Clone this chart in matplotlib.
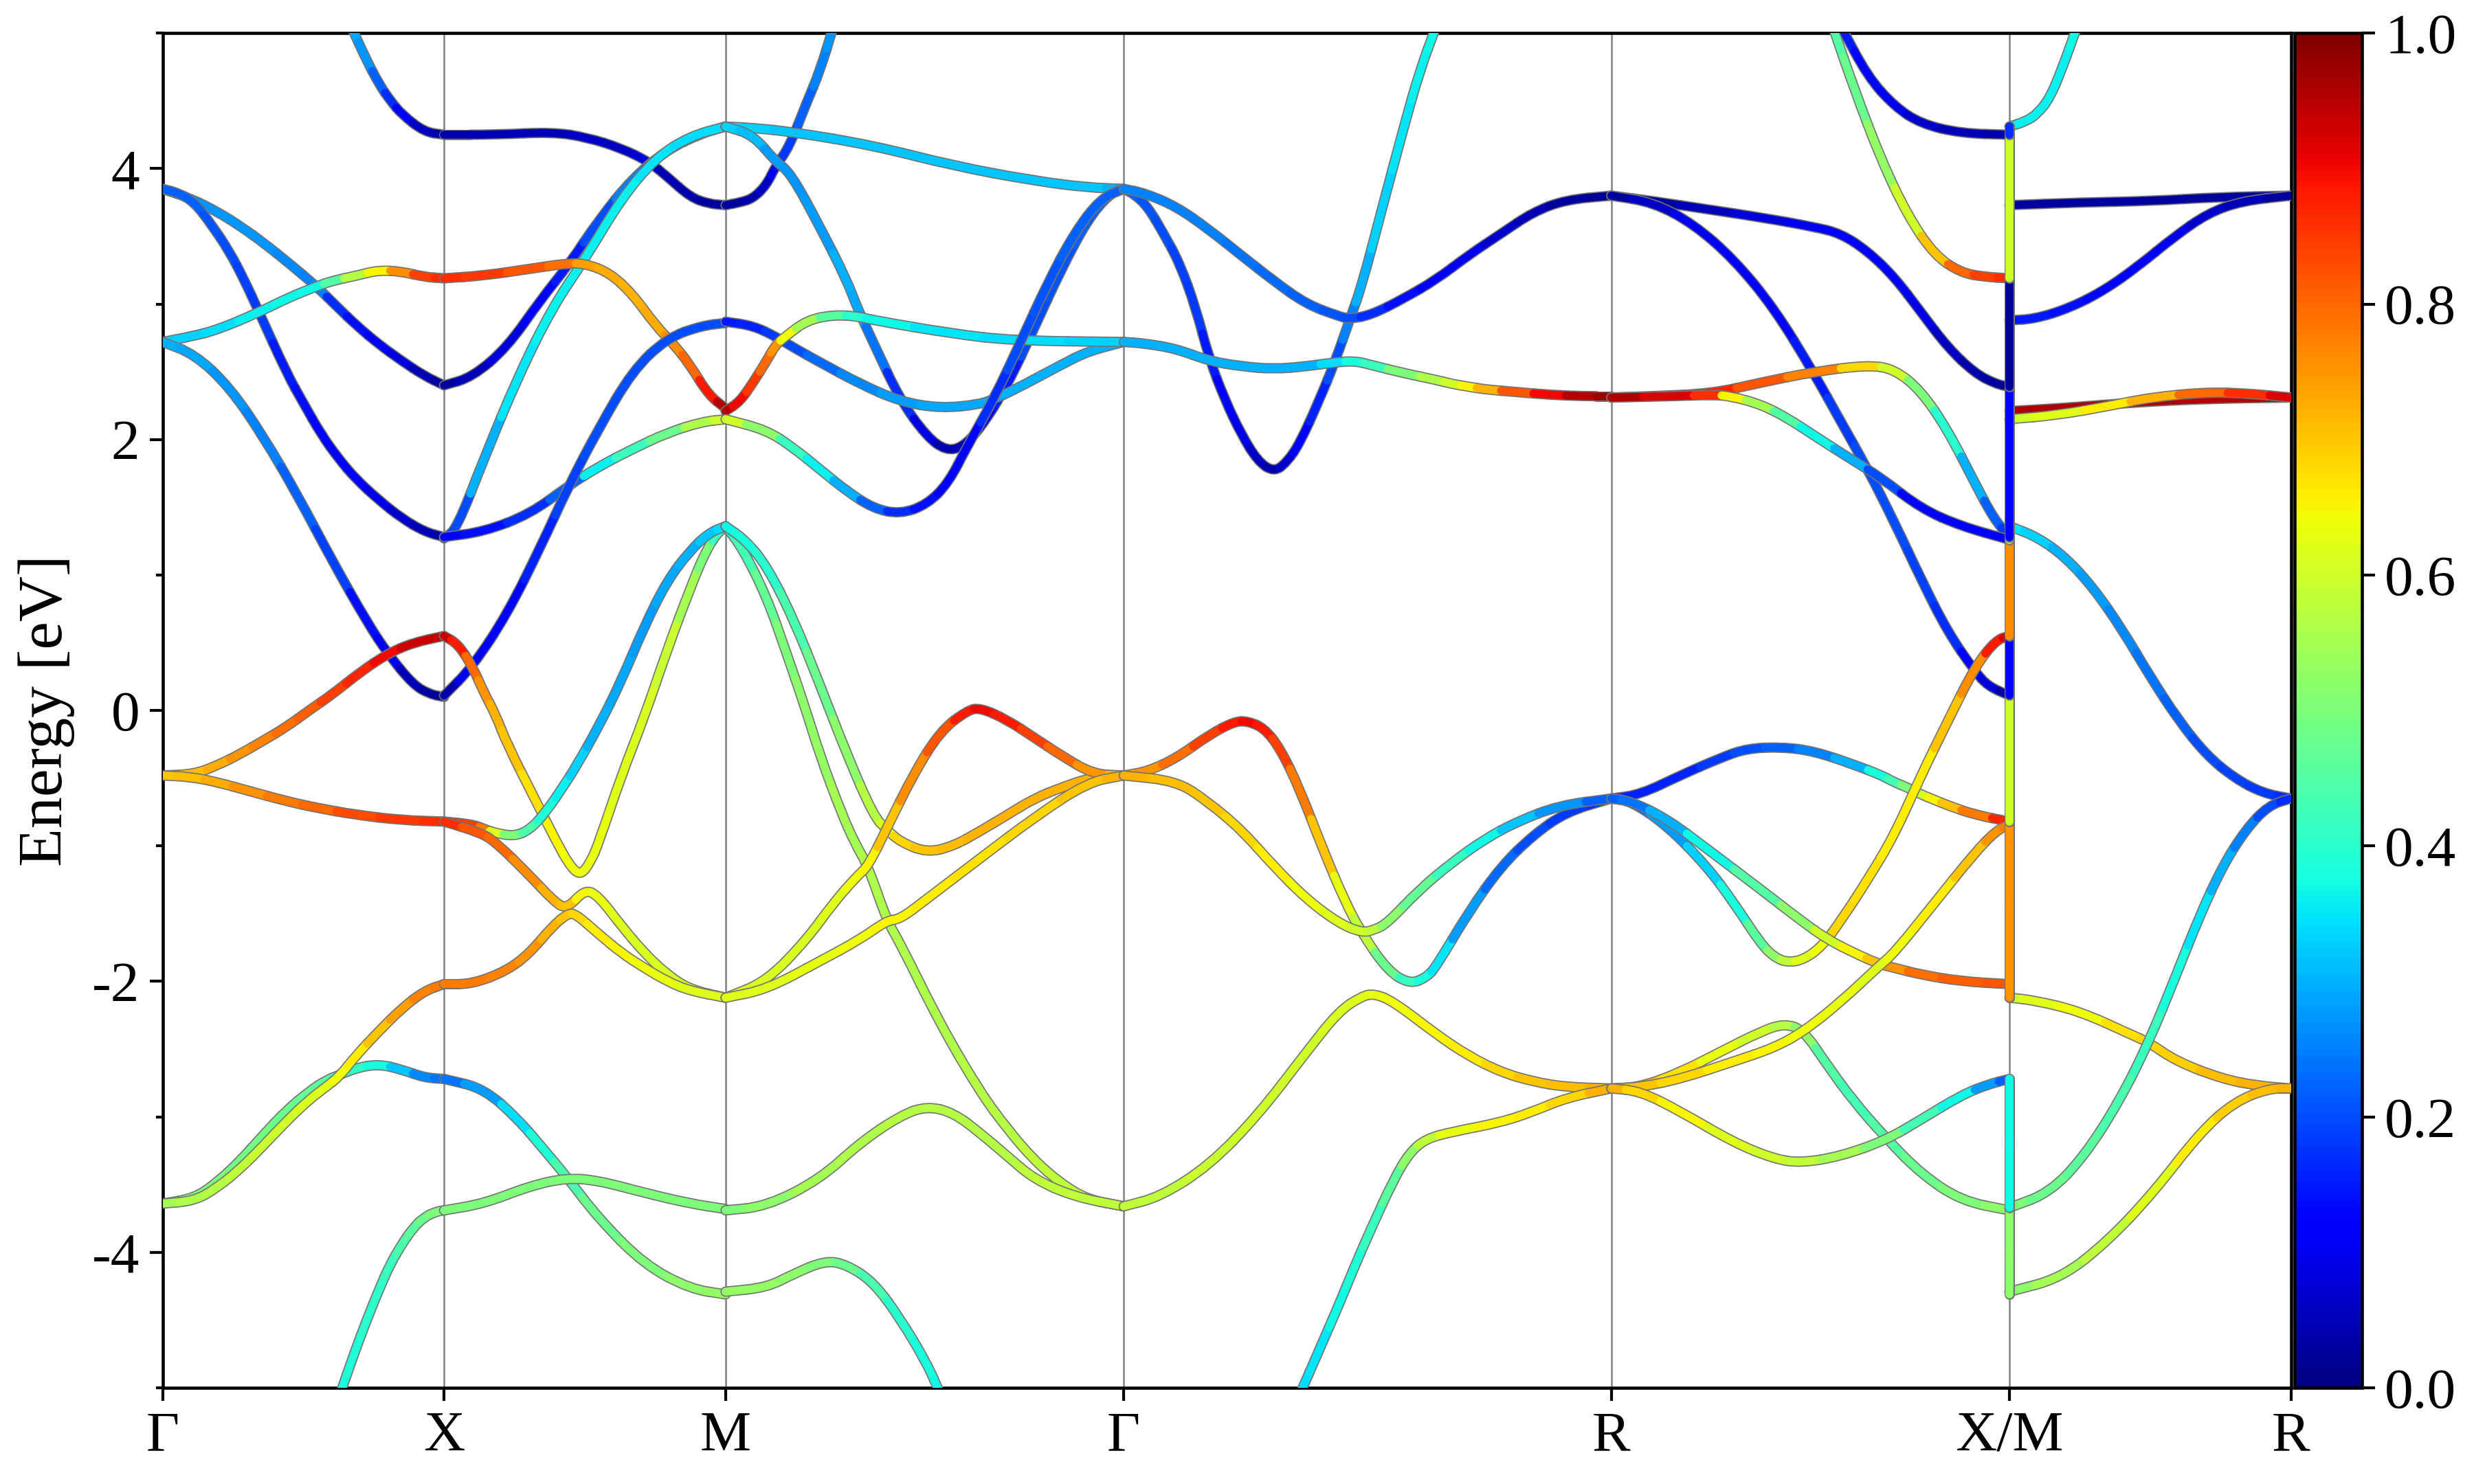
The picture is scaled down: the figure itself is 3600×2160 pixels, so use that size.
import numpy as np
import matplotlib
matplotlib.use("Agg")
import matplotlib.pyplot as plt
from matplotlib.path import Path
from matplotlib.collections import PathCollection
import matplotlib.patheffects as pe
from matplotlib import cm, colors

plt.rcParams['font.family'] = ['Liberation Serif', 'DejaVu Serif']
plt.rcParams['axes.unicode_minus'] = False

# high-symmetry path (units of 2pi/a)
kpts = [0.0, 0.5, 1.0, 1.7071, 2.5731, 3.2802, 3.7802]
klabels = ['Γ', 'X', 'M', 'Γ', 'R', 'X/M', 'R']

# every band: list of (fraction along segment, energy [eV], weight)
band_GX = [
    [(0.67, 5.05, .29), (0.72, 4.82, .27), (0.77, 4.62, .22), (0.81, 4.50, .17), (0.85, 4.40, .12), (0.93, 4.27, .06), (1.0, 4.25, .04)],
    [(0, 3.85, .27), (0.1, 3.78, .27), (0.196, 3.68, .27), (0.28, 3.57, .27), (0.36, 3.45, .27), (0.45, 3.30, .26), (0.547, 3.13, .25),
     (0.62, 2.98, .17), (0.69, 2.84, .14), (0.77, 2.70, .11), (0.85, 2.58, .08), (0.93, 2.47, .05), (1.0, 2.40, .03)],
    [(0, 3.85, .22), (0.057, 3.82, .22), (0.114, 3.75, .22), (0.176, 3.58, .21), (0.237, 3.39, .20), (0.29, 3.18, .19), (0.343, 2.94, .18),
     (0.441, 2.49, .15), (0.5, 2.27, .14), (0.563, 2.04, .13), (0.625, 1.86, .12), (0.686, 1.71, .11), (0.77, 1.55, .09), (0.849, 1.42, .07),
     (0.93, 1.32, .05), (1.0, 1.28, .04)],
    [(0, 2.72, .33), (0.1, 2.76, .33), (0.196, 2.81, .34), (0.343, 2.94, .36), (0.45, 3.05, .37), (0.547, 3.13, .37), (0.6, 3.17, .45),
     (0.69, 3.21, .57), (0.767, 3.25, .65), (0.85, 3.24, .76), (0.93, 3.20, .84), (1.0, 3.19, .86)],
    [(0, 2.72, .30), (0.114, 2.63, .29), (0.237, 2.39, .27), (0.359, 2.02, .25), (0.482, 1.58, .22), (0.604, 1.10, .19), (0.727, 0.65, .14),
     (0.8, 0.42, .10), (0.89, 0.19, .05), (0.95, 0.12, .03), (1.0, 0.10, .02)],
    [(0, -0.48, .70), (0.114, -0.47, .71), (0.2, -0.40, .73), (0.277, -0.32, .75), (0.36, -0.22, .77), (0.441, -0.12, .79), (0.52, 0.0, .81),
     (0.604, 0.12, .84), (0.7, 0.28, .87), (0.8, 0.42, .90), (0.89, 0.50, .93), (1.0, 0.55, .94)],
    [(0, -0.48, .70), (0.1, -0.49, .71), (0.196, -0.53, .73), (0.3, -0.59, .75), (0.441, -0.67, .78), (0.55, -0.72, .80), (0.686, -0.77, .83),
     (0.849, -0.81, .85), (1.0, -0.82, .86)],
    [(0, -3.64, .50), (0.114, -3.60, .50), (0.196, -3.48, .50), (0.278, -3.32, .49), (0.359, -3.13, .49), (0.441, -2.95, .48), (0.522, -2.81, .47),
     (0.58, -2.73, .46), (0.629, -2.69, .44), (0.686, -2.64, .41), (0.767, -2.61, .38), (0.849, -2.65, .32), (0.93, -2.71, .26), (1.0, -2.72, .24)],
    [(0, -3.64, .55), (0.114, -3.62, .56), (0.196, -3.52, .57), (0.278, -3.38, .58), (0.359, -3.21, .59), (0.441, -3.03, .60), (0.522, -2.87, .61),
     (0.58, -2.78, .62), (0.629, -2.70, .64), (0.686, -2.55, .66), (0.767, -2.37, .70), (0.849, -2.20, .74), (0.93, -2.07, .77), (1.0, -2.02, .78)],
    [(0.63, -5.05, .38), (0.68, -4.75, .39), (0.727, -4.49, .40), (0.77, -4.27, .41), (0.808, -4.09, .42), (0.85, -3.94, .44), (0.89, -3.82, .46),
     (0.93, -3.74, .48), (0.971, -3.70, .50), (1.0, -3.69, .50)],
]

band_XM = [
    [(0, 4.25, .04), (0.183, 4.25, .05), (0.386, 4.27, .05), (0.508, 4.23, .06), (0.63, 4.15, .06), (0.728, 4.05, .08), (0.793, 3.94, .05),
     (0.874, 3.79, .04), (0.94, 3.74, .03), (1.0, 3.73, .03)],
    [(0, 2.40, .03), (0.1, 2.46, .05), (0.224, 2.68, .08), (0.346, 3.04, .12), (0.443, 3.29, .15), (0.549, 3.62, .20), (0.67, 3.93, .25),
     (0.793, 4.14, .30), (0.915, 4.26, .33), (1.0, 4.31, .34)],
    [(0, 1.27, .13), (0.045, 1.34, .20), (0.142, 1.86, .30), (0.264, 2.47, .35), (0.386, 2.98, .36), (0.5, 3.33, .36), (0.63, 3.78, .36),
     (0.752, 4.08, .35), (0.874, 4.24, .34), (1.0, 4.31, .34)],
    [(0, 3.19, .86), (0.142, 3.21, .85), (0.305, 3.26, .82), (0.435, 3.30, .79), (0.5, 3.30, .74), (0.589, 3.23, .73), (0.671, 3.07, .72),
     (0.752, 2.84, .73), (0.817, 2.70, .76), (0.874, 2.55, .80), (0.939, 2.33, .88), (1.0, 2.23, .95)],
    [(0, 1.28, .12), (0.142, 1.32, .14), (0.305, 1.45, .17), (0.443, 1.66, .22), (0.549, 1.80, .36), (0.67, 1.93, .42), (0.793, 2.05, .48),
     (0.915, 2.13, .56), (1.0, 2.15, .60)],
    [(0, 0.11, .04), (0.1, 0.32, .10), (0.224, 0.71, .13), (0.346, 1.22, .16), (0.443, 1.66, .19), (0.549, 2.08, .20), (0.67, 2.51, .20),
     (0.793, 2.75, .20), (0.915, 2.84, .20), (1.0, 2.86, .20)],
    [(0, 0.55, .94), (0.05, 0.49, .88), (0.102, 0.32, .80), (0.142, 0.13, .75), (0.183, -0.03, .72), (0.224, -0.25, .70), (0.329, -0.68, .67),
     (0.402, -0.98, .65), (0.445, -1.14, .64), (0.484, -1.22, .64), (0.52, -1.12, .63), (0.549, -0.98, .63), (0.63, -0.48, .62),
     (0.711, -0.05, .61), (0.793, 0.45, .59), (0.874, 0.90, .55), (0.93, 1.18, .50), (0.975, 1.32, .42), (1.0, 1.35, .38)],
    [(0, -0.82, .87), (0.1, -0.84, .84), (0.15, -0.88, .78), (0.175, -0.90, .62), (0.248, -0.93, .50), (0.305, -0.88, .44), (0.362, -0.75, .39),
     (0.427, -0.55, .36), (0.467, -0.42, .33), (0.549, -0.12, .30), (0.63, 0.22, .29), (0.711, 0.62, .28), (0.793, 0.96, .29),
     (0.874, 1.18, .30), (0.94, 1.31, .32), (1.0, 1.36, .34)],
    [(0, -0.82, .86), (0.126, -0.90, .82), (0.183, -0.97, .80), (0.305, -1.22, .76), (0.386, -1.40, .72), (0.435, -1.47, .70), (0.5, -1.32, .65),
     (0.549, -1.37, .63), (0.63, -1.59, .62), (0.711, -1.79, .61), (0.793, -1.95, .61), (0.874, -2.06, .60), (1.0, -2.12, .60)],
    [(0, -2.02, .78), (0.1, -2.02, .78), (0.224, -1.92, .77), (0.305, -1.79, .75), (0.386, -1.59, .72), (0.439, -1.50, .70), (0.467, -1.50, .68),
     (0.549, -1.65, .66), (0.63, -1.79, .65), (0.711, -1.90, .64), (0.793, -2.00, .63), (0.874, -2.07, .62), (1.0, -2.12, .62)],
    [(0, -2.72, .24), (0.142, -2.79, .28), (0.264, -3.02, .34), (0.346, -3.22, .39), (0.435, -3.44, .44), (0.549, -3.75, .48), (0.711, -4.09, .50),
     (0.874, -4.27, .52), (1.0, -4.31, .53)],
    [(0, -3.69, .50), (0.142, -3.64, .50), (0.305, -3.51, .50), (0.435, -3.45, .50), (0.549, -3.47, .50), (0.711, -3.56, .50), (0.874, -3.64, .50),
     (1.0, -3.68, .50)],
]

band_MG = [
    [(0, 3.73, .03), (0.036, 3.75, .03), (0.069, 3.78, .04), (0.103, 3.88, .06), (0.126, 4.02, .10), (0.16, 4.16, .18), (0.204, 4.49, .22),
     (0.237, 4.72, .25), (0.271, 5.05, .27)],
    [(0, 4.31, .34), (0.069, 4.30, .33), (0.17, 4.27, .32), (0.372, 4.17, .32), (0.573, 4.02, .32), (0.775, 3.91, .32), (0.909, 3.86, .32),
     (1.0, 3.85, .30)],
    [(0, 4.31, .33), (0.069, 4.25, .31), (0.126, 4.05, .28), (0.163, 3.97, .27), (0.237, 3.57, .28), (0.304, 3.18, .30), (0.331, 2.97, .29),
     (0.372, 2.71, .24), (0.439, 2.29, .17), (0.506, 2.02, .09), (0.553, 1.92, .04), (0.593, 1.94, .05), (0.64, 2.08, .09), (0.708, 2.40, .15),
     (0.775, 2.82, .20), (0.842, 3.25, .21), (0.909, 3.62, .22), (0.963, 3.81, .22), (1.0, 3.85, .22)],
    [(0, 2.87, .15), (0.069, 2.84, .16), (0.126, 2.76, .18), (0.17, 2.68, .20), (0.237, 2.57, .23), (0.338, 2.41, .26), (0.439, 2.28, .28),
     (0.54, 2.23, .29), (0.64, 2.26, .29), (0.674, 2.30, .29), (0.721, 2.36, .30), (0.842, 2.55, .30), (0.909, 2.65, .30), (1.0, 2.72, .30)],
    [(0, 2.21, .95), (0.036, 2.28, .90), (0.069, 2.42, .85), (0.103, 2.58, .80), (0.126, 2.70, .75), (0.15, 2.76, .64), (0.204, 2.88, .55),
     (0.27, 2.92, .46), (0.331, 2.91, .40), (0.372, 2.88, .37), (0.573, 2.78, .35), (0.721, 2.73, .34), (1.0, 2.72, .33)],
    [(0, 2.15, .60), (0.103, 2.07, .52), (0.17, 1.94, .42), (0.237, 1.78, .36), (0.304, 1.62, .30), (0.372, 1.49, .22), (0.439, 1.45, .17),
     (0.506, 1.52, .14), (0.56, 1.68, .12), (0.607, 1.95, .13), (0.674, 2.30, .17), (0.741, 2.72, .20), (0.808, 3.15, .21), (0.875, 3.52, .22),
     (0.942, 3.78, .22), (1.0, 3.85, .22)],
    [(0, 1.36, .38), (0.042, 1.20, .43), (0.103, 0.84, .47), (0.15, 0.45, .50), (0.2, 0.02, .52), (0.237, -0.33, .53), (0.29, -0.75, .55),
     (0.325, -0.98, .55), (0.358, -1.15, .56), (0.405, -1.55, .56), (0.439, -1.72, .56), (0.54, -2.32, .56), (0.64, -2.82, .57),
     (0.708, -3.09, .57), (0.775, -3.32, .58), (0.842, -3.49, .58), (0.909, -3.61, .58), (1.0, -3.66, .58)],
    [(0, 1.36, .37), (0.049, 1.26, .38), (0.103, 1.07, .40), (0.17, 0.68, .44), (0.237, 0.19, .48), (0.304, -0.32, .52), (0.372, -0.78, .57),
     (0.405, -0.88, .62), (0.439, -0.97, .68), (0.506, -1.05, .70), (0.573, -1.00, .71), (0.64, -0.89, .72), (0.708, -0.77, .72),
     (0.775, -0.65, .72), (0.842, -0.57, .72), (0.922, -0.49, .72), (1.0, -0.48, .72)],
    [(0, -2.12, .62), (0.103, -2.00, .61), (0.204, -1.69, .61), (0.271, -1.42, .62), (0.331, -1.22, .64), (0.358, -1.15, .65), (0.405, -0.87, .70),
     (0.472, -0.47, .76), (0.54, -0.15, .82), (0.607, 0.00, .88), (0.64, 0.02, .90), (0.708, -0.07, .88), (0.775, -0.20, .84),
     (0.842, -0.33, .80), (0.922, -0.47, .75), (1.0, -0.48, .72)],
    [(0, -2.12, .62), (0.103, -2.06, .62), (0.237, -1.85, .63), (0.338, -1.69, .64), (0.405, -1.55, .65), (0.439, -1.54, .65), (0.506, -1.39, .66),
     (0.64, -1.09, .67), (0.775, -0.79, .68), (0.909, -0.53, .70), (1.0, -0.48, .72)],
    [(0, -3.69, .50), (0.103, -3.66, .52), (0.237, -3.46, .55), (0.338, -3.19, .56), (0.439, -2.99, .57), (0.506, -2.92, .57), (0.573, -2.97, .57),
     (0.64, -3.12, .57), (0.708, -3.29, .57), (0.775, -3.46, .58), (0.876, -3.59, .58), (1.0, -3.66, .58)],
    [(0, -4.29, .53), (0.103, -4.26, .53), (0.17, -4.16, .52), (0.25, -4.06, .50), (0.304, -4.09, .48), (0.372, -4.22, .44), (0.439, -4.49, .40),
     (0.506, -4.82, .38), (0.54, -5.05, .37)],
]

band_GR = [
    [(0, 3.85, .22), (0.022, 3.81, .22), (0.049, 3.72, .21), (0.082, 3.52, .20), (0.115, 3.30, .19), (0.148, 2.97, .18), (0.175, 2.60, .15),
     (0.208, 2.29, .12), (0.241, 2.04, .09), (0.275, 1.84, .06), (0.308, 1.76, .04), (0.334, 1.83, .07), (0.361, 1.97, .12), (0.401, 2.29, .16),
     (0.434, 2.58, .20), (0.464, 2.89, .25), (0.488, 3.13, .30), (0.528, 3.68, .33), (0.574, 4.30, .35), (0.607, 4.72, .36), (0.641, 5.05, .37)],
    [(0, 3.85, .25), (0.042, 3.82, .25), (0.108, 3.72, .25), (0.175, 3.55, .25), (0.241, 3.36, .24), (0.308, 3.17, .23), (0.374, 3.00, .22),
     (0.441, 2.91, .21), (0.464, 2.89, .20), (0.508, 2.92, .17), (0.574, 3.04, .14), (0.641, 3.18, .12), (0.707, 3.36, .10), (0.774, 3.52, .07),
     (0.84, 3.68, .05), (0.907, 3.77, .03), (1.0, 3.80, .02)],
    [(0, 2.72, .30), (0.042, 2.71, .30), (0.108, 2.67, .30), (0.175, 2.58, .30), (0.241, 2.54, .30), (0.308, 2.52, .30), (0.374, 2.54, .30),
     (0.434, 2.57, .34), (0.474, 2.58, .38), (0.508, 2.55, .42), (0.574, 2.49, .50), (0.641, 2.44, .56), (0.674, 2.41, .60), (0.707, 2.39, .65),
     (0.741, 2.37, .72), (0.807, 2.35, .82), (0.874, 2.33, .90), (0.94, 2.32, .95), (1.0, 2.32, .97)],
    [(0, -0.48, .72), (0.049, -0.45, .75), (0.109, -0.35, .79), (0.175, -0.18, .84), (0.228, -0.08, .88), (0.255, -0.08, .90), (0.288, -0.13, .88),
     (0.321, -0.28, .84), (0.361, -0.58, .78), (0.408, -1.02, .70), (0.455, -1.42, .63), (0.488, -1.64, .58), (0.541, -1.92, .48),
     (0.587, -2.02, .42), (0.621, -1.97, .38), (0.641, -1.89, .35), (0.707, -1.49, .28), (0.774, -1.15, .23), (0.84, -0.92, .20),
     (0.907, -0.75, .18), (1.0, -0.65, .17)],
    [(0, -0.48, .72), (0.109, -0.52, .71), (0.175, -0.68, .70), (0.241, -0.88, .68), (0.308, -1.15, .66), (0.374, -1.39, .64), (0.441, -1.57, .62),
     (0.488, -1.64, .60), (0.514, -1.62, .58), (0.541, -1.57, .52), (0.607, -1.32, .47), (0.674, -1.12, .42), (0.74, -0.95, .37),
     (0.807, -0.82, .32), (0.894, -0.70, .27), (1.0, -0.65, .22)],
    [(0, -3.66, .58), (0.075, -3.59, .58), (0.175, -3.36, .59), (0.275, -2.99, .60), (0.375, -2.52, .60), (0.441, -2.22, .61), (0.488, -2.11, .62),
     (0.514, -2.09, .63), (0.554, -2.15, .64), (0.641, -2.39, .65), (0.707, -2.55, .66), (0.774, -2.67, .68), (0.84, -2.74, .70),
     (0.907, -2.78, .71), (1.0, -2.79, .72)],
    [(0.361, -5.05, .34), (0.401, -4.72, .35), (0.441, -4.39, .37), (0.474, -4.10, .39), (0.508, -3.82, .42), (0.554, -3.46, .46),
     (0.587, -3.26, .52), (0.621, -3.16, .58), (0.674, -3.11, .63), (0.774, -3.04, .65), (0.84, -2.96, .66), (0.907, -2.86, .68), (1.0, -2.79, .72)],
]

band_RX = [
    [(0, 3.80, .02), (0.106, 3.76, .03), (0.24, 3.70, .05), (0.375, 3.64, .08), (0.509, 3.57, .10), (0.577, 3.52, .11), (0.644, 3.39, .12),
     (0.711, 3.20, .11), (0.778, 2.94, .09), (0.845, 2.68, .06), (0.913, 2.49, .04), (0.966, 2.41, .03), (1.0, 2.39, .02)],
    [(0, 3.80, .03), (0.106, 3.75, .06), (0.207, 3.59, .10), (0.308, 3.33, .12), (0.409, 2.97, .13), (0.509, 2.49, .15), (0.577, 2.13, .18),
     (0.644, 1.78, .20), (0.711, 1.39, .20), (0.778, 0.97, .19), (0.845, 0.58, .17), (0.913, 0.29, .12), (0.946, 0.18, .08), (1.0, 0.11, .04)],
    [(0.556, 5.05, .45), (0.61, 4.59, .48), (0.677, 4.07, .53), (0.745, 3.65, .60), (0.812, 3.36, .70), (0.879, 3.23, .80), (0.94, 3.20, .84),
     (1.0, 3.19, .86)],
    [(0.577, 5.05, .15), (0.644, 4.68, .13), (0.711, 4.46, .10), (0.778, 4.33, .07), (0.879, 4.26, .05), (1.0, 4.25, .04)],
    [(0, 2.31, .96), (0.106, 2.32, .93), (0.254, 2.34, .87), (0.375, 2.42, .82), (0.509, 2.50, .77), (0.644, 2.55, .68), (0.711, 2.52, .60),
     (0.778, 2.36, .50), (0.845, 2.07, .40), (0.913, 1.68, .30), (0.96, 1.42, .22), (1.0, 1.28, .18)],
    [(0, 2.31, .96), (0.16, 2.32, .92), (0.254, 2.33, .86), (0.3, 2.32, .65), (0.375, 2.26, .55), (0.442, 2.16, .45), (0.509, 2.03, .37),
     (0.61, 1.84, .30), (0.677, 1.72, .20), (0.778, 1.49, .13), (0.879, 1.36, .12), (1.0, 1.26, .12)],
    [(0, -0.65, .17), (0.073, -0.62, .16), (0.173, -0.48, .16), (0.274, -0.35, .18), (0.341, -0.28, .20), (0.429, -0.27, .22), (0.509, -0.30, .25),
     (0.61, -0.40, .30), (0.68, -0.48, .38), (0.711, -0.53, .43), (0.745, -0.57, .50), (0.778, -0.62, .60), (0.812, -0.66, .65),
     (0.845, -0.70, .70), (0.913, -0.77, .78), (1.0, -0.82, .87)],
    [(0, -0.65, .22), (0.05, -0.67, .23), (0.14, -0.85, .28), (0.24, -1.15, .33), (0.308, -1.42, .38), (0.375, -1.72, .46), (0.409, -1.82, .52),
     (0.442, -1.86, .58), (0.483, -1.84, .62), (0.53, -1.74, .64), (0.577, -1.55, .68), (0.644, -1.25, .67), (0.711, -0.92, .66),
     (0.778, -0.48, .66), (0.845, -0.08, .70), (0.913, 0.32, .76), (0.966, 0.52, .88), (1.0, 0.55, .92)],
    [(0, -0.65, .22), (0.05, -0.67, .24), (0.14, -0.80, .30), (0.24, -1.02, .37), (0.375, -1.32, .45), (0.476, -1.55, .52), (0.543, -1.69, .60),
     (0.61, -1.79, .65), (0.671, -1.87, .70), (0.711, -1.90, .75), (0.778, -1.95, .79), (0.879, -2.00, .81), (1.0, -2.02, .82)],
    [(0, -2.79, .72), (0.073, -2.78, .70), (0.174, -2.67, .67), (0.274, -2.52, .63), (0.375, -2.37, .60), (0.435, -2.31, .57), (0.483, -2.36, .52),
     (0.543, -2.62, .45), (0.61, -2.89, .43), (0.691, -3.16, .45), (0.778, -3.42, .48), (0.879, -3.62, .50), (1.0, -3.69, .52)],
    [(0, -2.79, .72), (0.073, -2.78, .70), (0.174, -2.72, .68), (0.308, -2.59, .66), (0.409, -2.49, .65), (0.483, -2.37, .64), (0.577, -2.15, .63),
     (0.671, -1.89, .62), (0.711, -1.79, .64), (0.812, -1.42, .66), (0.913, -1.05, .70), (0.966, -0.89, .75), (1.0, -0.84, .78)],
    [(0, -2.79, .72), (0.073, -2.81, .68), (0.174, -2.96, .65), (0.308, -3.19, .62), (0.409, -3.31, .60), (0.476, -3.34, .58), (0.577, -3.29, .55),
     (0.691, -3.17, .50), (0.778, -3.02, .43), (0.879, -2.84, .37), (0.946, -2.76, .28), (1.0, -2.72, .22)],
]

band_MR = [
    [(0, 4.31, .35), (0.061, 4.35, .36), (0.102, 4.41, .36), (0.143, 4.52, .36), (0.184, 4.72, .36), (0.241, 5.05, .37)],
    [(0, 3.73, .03), (0.254, 3.75, .03), (0.499, 3.76, .03), (0.745, 3.79, .03), (1.0, 3.80, .03)],
    [(0, 2.88, .15), (0.09, 2.89, .15), (0.213, 2.97, .14), (0.336, 3.10, .13), (0.458, 3.28, .12), (0.581, 3.49, .10), (0.704, 3.67, .07),
     (0.826, 3.76, .05), (1.0, 3.80, .03)],
    [(0, 2.21, .96), (0.17, 2.23, .96), (0.36, 2.26, .96), (0.5, 2.28, .96), (0.7, 2.30, .95), (1.0, 2.31, .95)],
    [(0, 2.15, .60), (0.17, 2.18, .62), (0.36, 2.25, .66), (0.5, 2.31, .72), (0.7, 2.35, .80), (0.85, 2.34, .86), (1.0, 2.31, .92)],
    [(0, 1.36, .35), (0.1, 1.28, .33), (0.2, 1.13, .30), (0.3, 0.90, .28), (0.4, 0.60, .26), (0.5, 0.25, .24), (0.6, -0.07, .22),
     (0.7, -0.33, .20), (0.8, -0.50, .19), (0.9, -0.61, .18), (1.0, -0.65, .17)],
    [(0, -2.12, .60), (0.09, -2.14, .62), (0.25, -2.22, .64), (0.43, -2.39, .67), (0.495, -2.45, .68), (0.593, -2.59, .69), (0.757, -2.72, .71),
     (0.88, -2.77, .72), (1.0, -2.79, .72)],
    [(0, -3.67, .50), (0.143, -3.56, .48), (0.266, -3.29, .46), (0.389, -2.89, .44), (0.495, -2.45, .42), (0.593, -1.95, .38), (0.675, -1.52, .35),
     (0.757, -1.15, .30), (0.839, -0.88, .25), (0.921, -0.70, .20), (1.0, -0.65, .17)],
    [(0, -4.29, .52), (0.184, -4.19, .55), (0.348, -3.92, .58), (0.511, -3.56, .62), (0.675, -3.12, .66), (0.798, -2.89, .69), (0.921, -2.79, .71),
     (1.0, -2.79, .72)],
]

# jumps drawn at the X/M break: (energy at X, energy at M, weight)
jumps_XM = [(-3.69, -4.31, .52), (-2.72, -3.67, .37), (-2.02, -2.12, .70), (-0.84, -2.12, .75), (-0.82, 1.36, .60),
            (0.11, 1.36, .13), (0.55, 2.15, .76), (1.26, 2.21, .54), (1.28, 2.88, .13), (2.39, 3.73, .02),
            (3.19, 4.31, .60), (4.25, 4.31, .17)]

segments = [band_GX, band_XM, band_MG, band_GR, band_RX, band_MR]

cmap = plt.get_cmap('jet')
norm = colors.Normalize(vmin=0.0, vmax=1.0)
LW = 2.8
edge = [pe.Stroke(linewidth=LW + 0.8, foreground='0.45'), pe.Normal()]


def draw_band(ax, x, e, w):
    # smooth band drawn as quadratic pieces through the listed points
    pts = np.column_stack([x, e])
    mids = 0.5 * (pts[:-1] + pts[1:])
    paths = [Path([pts[0], mids[0]])]
    ws = [w[0]]
    for i in range(1, len(pts) - 1):
        paths.append(Path([mids[i - 1], pts[i], mids[i]], [Path.MOVETO, Path.CURVE3, Path.CURVE3]))
        ws.append(w[i])
    paths.append(Path([mids[-1], pts[-1]]))
    ws.append(w[-1])
    pc = PathCollection(paths, facecolors='none', edgecolors=cmap(norm(ws)), linewidths=LW, zorder=3)
    pc.set_capstyle('round')
    pc.set_path_effects(edge)
    ax.add_collection(pc)


fig = plt.figure(figsize=(12, 7.2), dpi=300)
ax = fig.add_axes([0.0657, 0.0648, 0.8603, 0.9129])

for k in kpts[1:-1]:
    ax.axvline(k, color='0.5', lw=0.6, zorder=1)

for i, seg in enumerate(segments):
    k0, k1 = kpts[i], kpts[i + 1]
    for band in seg:
        t, e, w = (np.array(v) for v in zip(*band))
        draw_band(ax, k0 + t * (k1 - k0), e, w)

kx = kpts[5]
for eX, eM, w in jumps_XM:
    draw_band(ax, np.array([kx, kx]), np.array([eX, eM]), np.array([w, w]))

ax.set_xlim(kpts[0], kpts[-1])
ax.set_ylim(-5, 5)
ax.set_xticks(kpts)
ax.set_xticklabels(klabels)
ax.set_yticks([-4, -2, 0, 2, 4])
ax.set_yticks([-5, -3, -1, 1, 3, 5], minor=True)
ax.set_ylabel('Energy [eV]', fontsize=22, labelpad=6)
ax.tick_params(axis='both', which='major', labelsize=20, direction='out', length=4.5, width=1.0)
ax.tick_params(axis='y', which='minor', direction='out', length=2.5, width=1.0)
for s in ax.spines.values():
    s.set_linewidth(1.1)

cax = fig.add_axes([0.9275, 0.0648, 0.0272, 0.9129])
cb = fig.colorbar(cm.ScalarMappable(norm=norm, cmap=cmap), cax=cax)
cb.set_ticks(np.arange(0, 1.01, 0.2))
cb.ax.yaxis.set_major_formatter('{x:.1f}')
cb.ax.tick_params(labelsize=20, length=4.5, width=1.0)
cb.outline.set_linewidth(1.1)

fig.savefig('out.png', dpi=300)
